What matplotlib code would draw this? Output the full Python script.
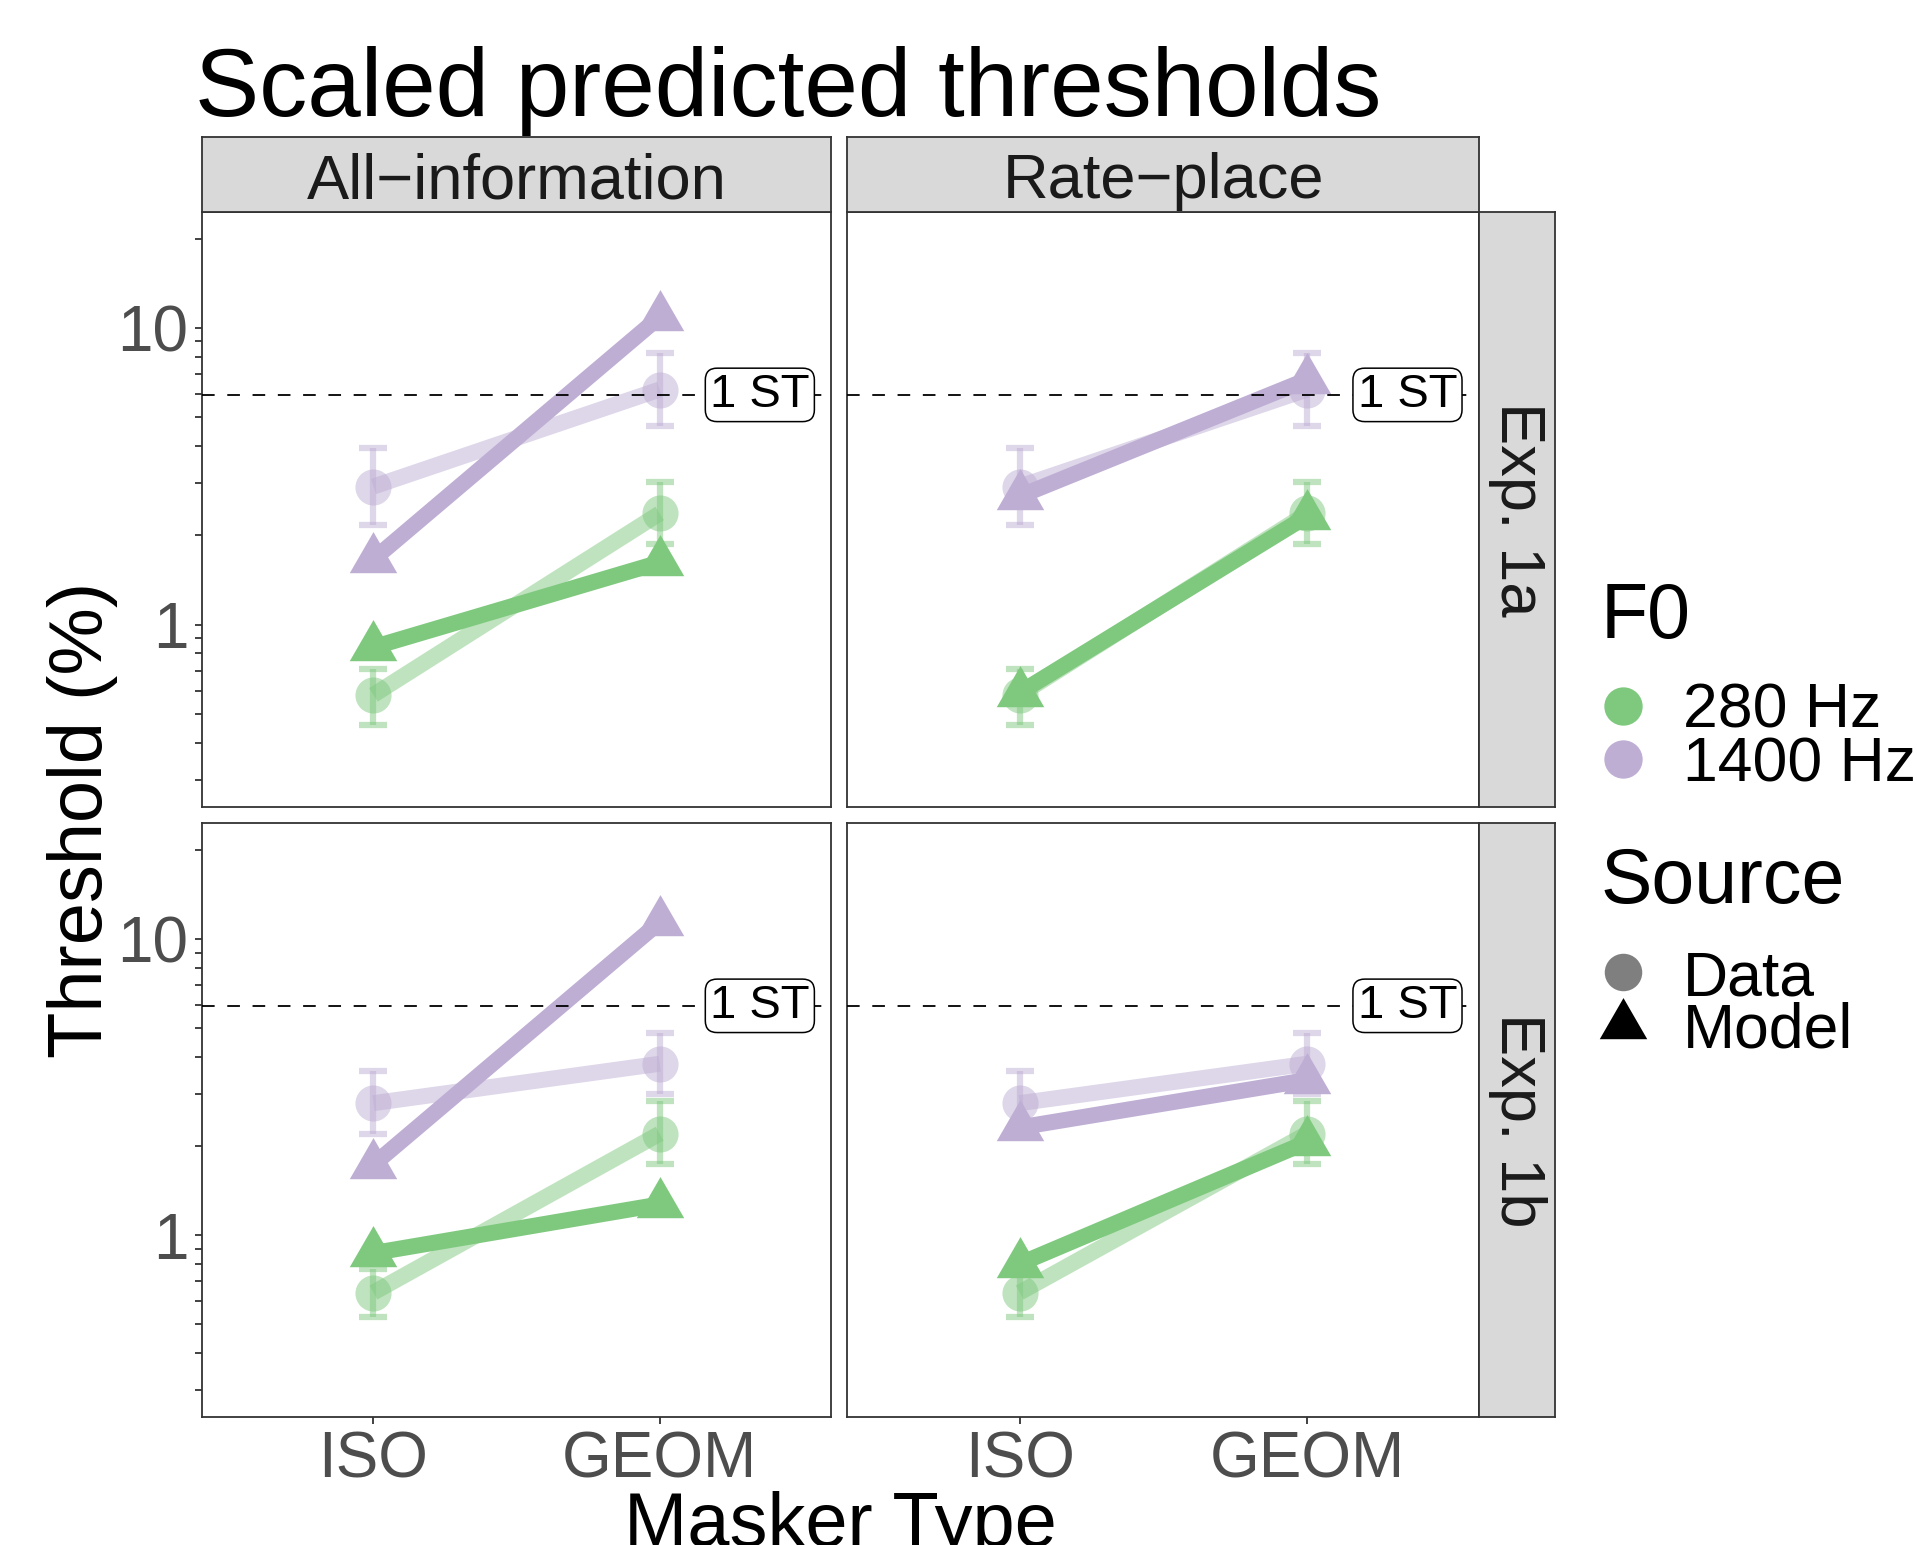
import matplotlib
matplotlib.use("Agg")
import matplotlib.pyplot as plt
from matplotlib.lines import Line2D
from matplotlib.ticker import NullLocator
import numpy as np

plt.rcParams['font.family'] = ['Liberation Sans', 'DejaVu Sans']

masker_types = ["ISO", "GEOM"]
f0_levels = ["280 Hz", "1400 Hz"]
f0_colors = ["#7FC97F", "#BEAED4"]
model_names = ["All\u2212information", "Rate\u2212place"]
experiments = ["Exp. 1a", "Exp. 1b"]

# measured thresholds (%) and error bar limits, per F0
data_1a_280 = [0.58, 2.37]
data_1a_280_lo = [0.46, 1.87]
data_1a_280_hi = [0.71, 3.02]
data_1a_1400 = [2.92, 6.20]
data_1a_1400_lo = [2.16, 4.66]
data_1a_1400_hi = [3.94, 8.22]
data_1b_280 = [0.64, 2.20]
data_1b_280_lo = [0.53, 1.74]
data_1b_280_hi = [0.77, 2.84]
data_1b_1400 = [2.79, 3.79]
data_1b_1400_lo = [2.20, 3.00]
data_1b_1400_hi = [3.57, 4.81]

# scaled model predictions (%)
allinfo_1a_280 = [0.84, 1.62]
allinfo_1a_1400 = [1.66, 10.9]
rateplace_1a_280 = [0.59, 2.32]
rateplace_1a_1400 = [2.71, 6.69]
allinfo_1b_280 = [0.87, 1.27]
allinfo_1b_1400 = [1.73, 11.4]
rateplace_1b_280 = [0.80, 2.06]
rateplace_1b_1400 = [2.31, 3.34]

# one semitone expressed as a percentage
one_st = (2 ** (1 / 12) - 1) * 100

data_mean = {"Exp. 1a": [data_1a_280, data_1a_1400], "Exp. 1b": [data_1b_280, data_1b_1400]}
data_lo = {"Exp. 1a": [data_1a_280_lo, data_1a_1400_lo], "Exp. 1b": [data_1b_280_lo, data_1b_1400_lo]}
data_hi = {"Exp. 1a": [data_1a_280_hi, data_1a_1400_hi], "Exp. 1b": [data_1b_280_hi, data_1b_1400_hi]}
model_pred = {
    (model_names[0], "Exp. 1a"): [allinfo_1a_280, allinfo_1a_1400],
    (model_names[1], "Exp. 1a"): [rateplace_1a_280, rateplace_1a_1400],
    (model_names[0], "Exp. 1b"): [allinfo_1b_280, allinfo_1b_1400],
    (model_names[1], "Exp. 1b"): [rateplace_1b_280, rateplace_1b_1400],
}

W, H = 1917, 1545
fig = plt.figure(figsize=(W / 100, H / 100), dpi=100)


def box(x0, y0, x1, y1):
    # pixel box (top-left origin) -> figure fraction rect
    return [x0 / W, 1 - y1 / H, (x1 - x0) / W, (y1 - y0) / H]


col_x = [(201.7, 831.4), (847.3, 1479.3)]
row_y = [(211.5, 806.9), (822.8, 1417.0)]
strip_top = (136.9, 211.5)
strip_right = (1479.3, 1555.1)

edge = "#333333"
tri = np.array([(0, 1), (-0.866, -0.5), (0.866, -0.5)])
ylim_lo, ylim_hi = 0.3, 20
span = np.log10(ylim_hi / ylim_lo)
ylims = (10 ** (np.log10(ylim_lo) - 0.05 * span), 10 ** (np.log10(ylim_hi) + 0.05 * span))
log_ticks = [m * 10.0 ** e for e in (-1, 0, 1) for m in range(1, 10)]
log_ticks = [t for t in log_ticks if ylim_lo - 1e-9 <= t <= ylim_hi + 1e-9]
x = np.arange(len(masker_types))

for r, exp in enumerate(experiments):
    for c, model in enumerate(model_names):
        ax = fig.add_axes(box(col_x[c][0], row_y[r][0], col_x[c][1], row_y[r][1]))
        for i, col in enumerate(f0_colors):
            mean = np.array(data_mean[exp][i])
            lo = np.array(data_lo[exp][i])
            hi = np.array(data_hi[exp][i])
            ax.errorbar(x, mean, yerr=[mean - lo, hi - mean], fmt='none', ecolor=col,
                        alpha=0.5, elinewidth=4.5, capsize=10.4, capthick=4.5, zorder=2)
            ax.plot(x, mean, color=col, alpha=0.5, lw=11.5, solid_capstyle='butt', zorder=2)
            ax.plot(x, mean, 'o', color=col, alpha=0.5, ms=26, mew=0, zorder=3)
        for i, col in enumerate(f0_colors):
            pred = model_pred[(model, exp)][i]
            ax.plot(x, pred, color=col, lw=11.5, solid_capstyle='butt', zorder=4)
            ax.plot(x, pred, marker=tri, ls='none', color=col, ms=39.5, mew=0, zorder=5)
        ax.axhline(one_st, color='black', lw=1.3, ls=(0, (7, 7)), zorder=6)
        ax.text(1.35, one_st, "1 ST", fontsize=34, ha='center', va='center', zorder=7,
                bbox=dict(boxstyle='round,pad=0.1,rounding_size=0.25', fc='white',
                          ec='black', lw=1.1))
        ax.set_yscale('log')
        ax.set_ylim(*ylims)
        ax.set_xlim(-0.6, 1.6)
        ax.yaxis.set_minor_locator(NullLocator())
        ax.set_yticks(log_ticks)
        ax.set_yticklabels(["1" if t == 1 else "10" if t == 10 else "" for t in log_ticks])
        ax.set_xticks(x)
        ax.set_xticklabels(masker_types)
        ax.tick_params(axis='both', colors=edge, labelcolor='#4D4D4D', labelsize=46,
                       length=5, width=1.3, pad=4.5)
        if c > 0:
            ax.tick_params(axis='y', left=False, labelleft=False)
        if r == 0:
            ax.tick_params(axis='x', bottom=False, labelbottom=False)
        for s in ax.spines.values():
            s.set_color(edge)
            s.set_linewidth(1.3)

# facet strips
for c, model in enumerate(model_names):
    sax = fig.add_axes(box(col_x[c][0], strip_top[0], col_x[c][1], strip_top[1]))
    sax.set_facecolor('#D9D9D9')
    sax.set_xticks([])
    sax.set_yticks([])
    for s in sax.spines.values():
        s.set_color(edge)
        s.set_linewidth(1.3)
    sax.text(0.5, 0.177, model, transform=sax.transAxes, ha='center', va='baseline',
             fontsize=45.5, color='#1A1A1A')

for r, exp in enumerate(experiments):
    sax = fig.add_axes(box(strip_right[0], row_y[r][0], strip_right[1], row_y[r][1]))
    sax.set_facecolor('#D9D9D9')
    sax.set_xticks([])
    sax.set_yticks([])
    for s in sax.spines.values():
        s.set_color(edge)
        s.set_linewidth(1.3)
    sax.text(0.5, 0.5, exp, transform=sax.transAxes, ha='center', va='center',
             rotation=-90, fontsize=45.5, color='#1A1A1A')

# titles
fig.text(195.4 / W, 1 - 115.5 / H, "Scaled predicted thresholds", fontsize=69.2, va='baseline')
fig.text(840.5 / W, 1 - 1546 / H, "Masker Type", fontsize=54.5, ha='center', va='baseline')
fig.text(82.5 / W, 1 - 820 / H, "Threshold (%)", fontsize=54.5, rotation=90,
         ha='center', va='center')

# legends
fig.text(1601 / W, 1 - 638.3 / H, "F0", fontsize=55.5, va='baseline')
for i, (lab, col) in enumerate(zip(f0_levels, f0_colors)):
    ky = [706.0, 759.3][i]
    fig.add_artist(Line2D([1622.7 / W], [1 - ky / H], transform=fig.transFigure,
                          marker='o', ms=27.6, mew=0, color=col, ls='none'))
    fig.text(1683 / W, 1 - (ky + 22) / H, lab, fontsize=45, va='baseline')

fig.text(1600 / W, 1 - 903.3 / H, "Source", fontsize=55.5, va='baseline')
fig.add_artist(Line2D([1622.7 / W], [1 - 971.7 / H], transform=fig.transFigure,
                      marker='o', ms=27, mew=0, color='black', alpha=0.5, ls='none'))
fig.add_artist(Line2D([1622.7 / W], [1 - 1024.7 / H], transform=fig.transFigure,
                      marker=tri, ms=39.5, mew=0, color='black', ls='none'))
fig.text(1683 / W, 1 - 995 / H, "Data", fontsize=45, va='baseline')
fig.text(1683 / W, 1 - 1047.3 / H, "Model", fontsize=45, va='baseline')

fig.savefig("out.png", dpi=100)
